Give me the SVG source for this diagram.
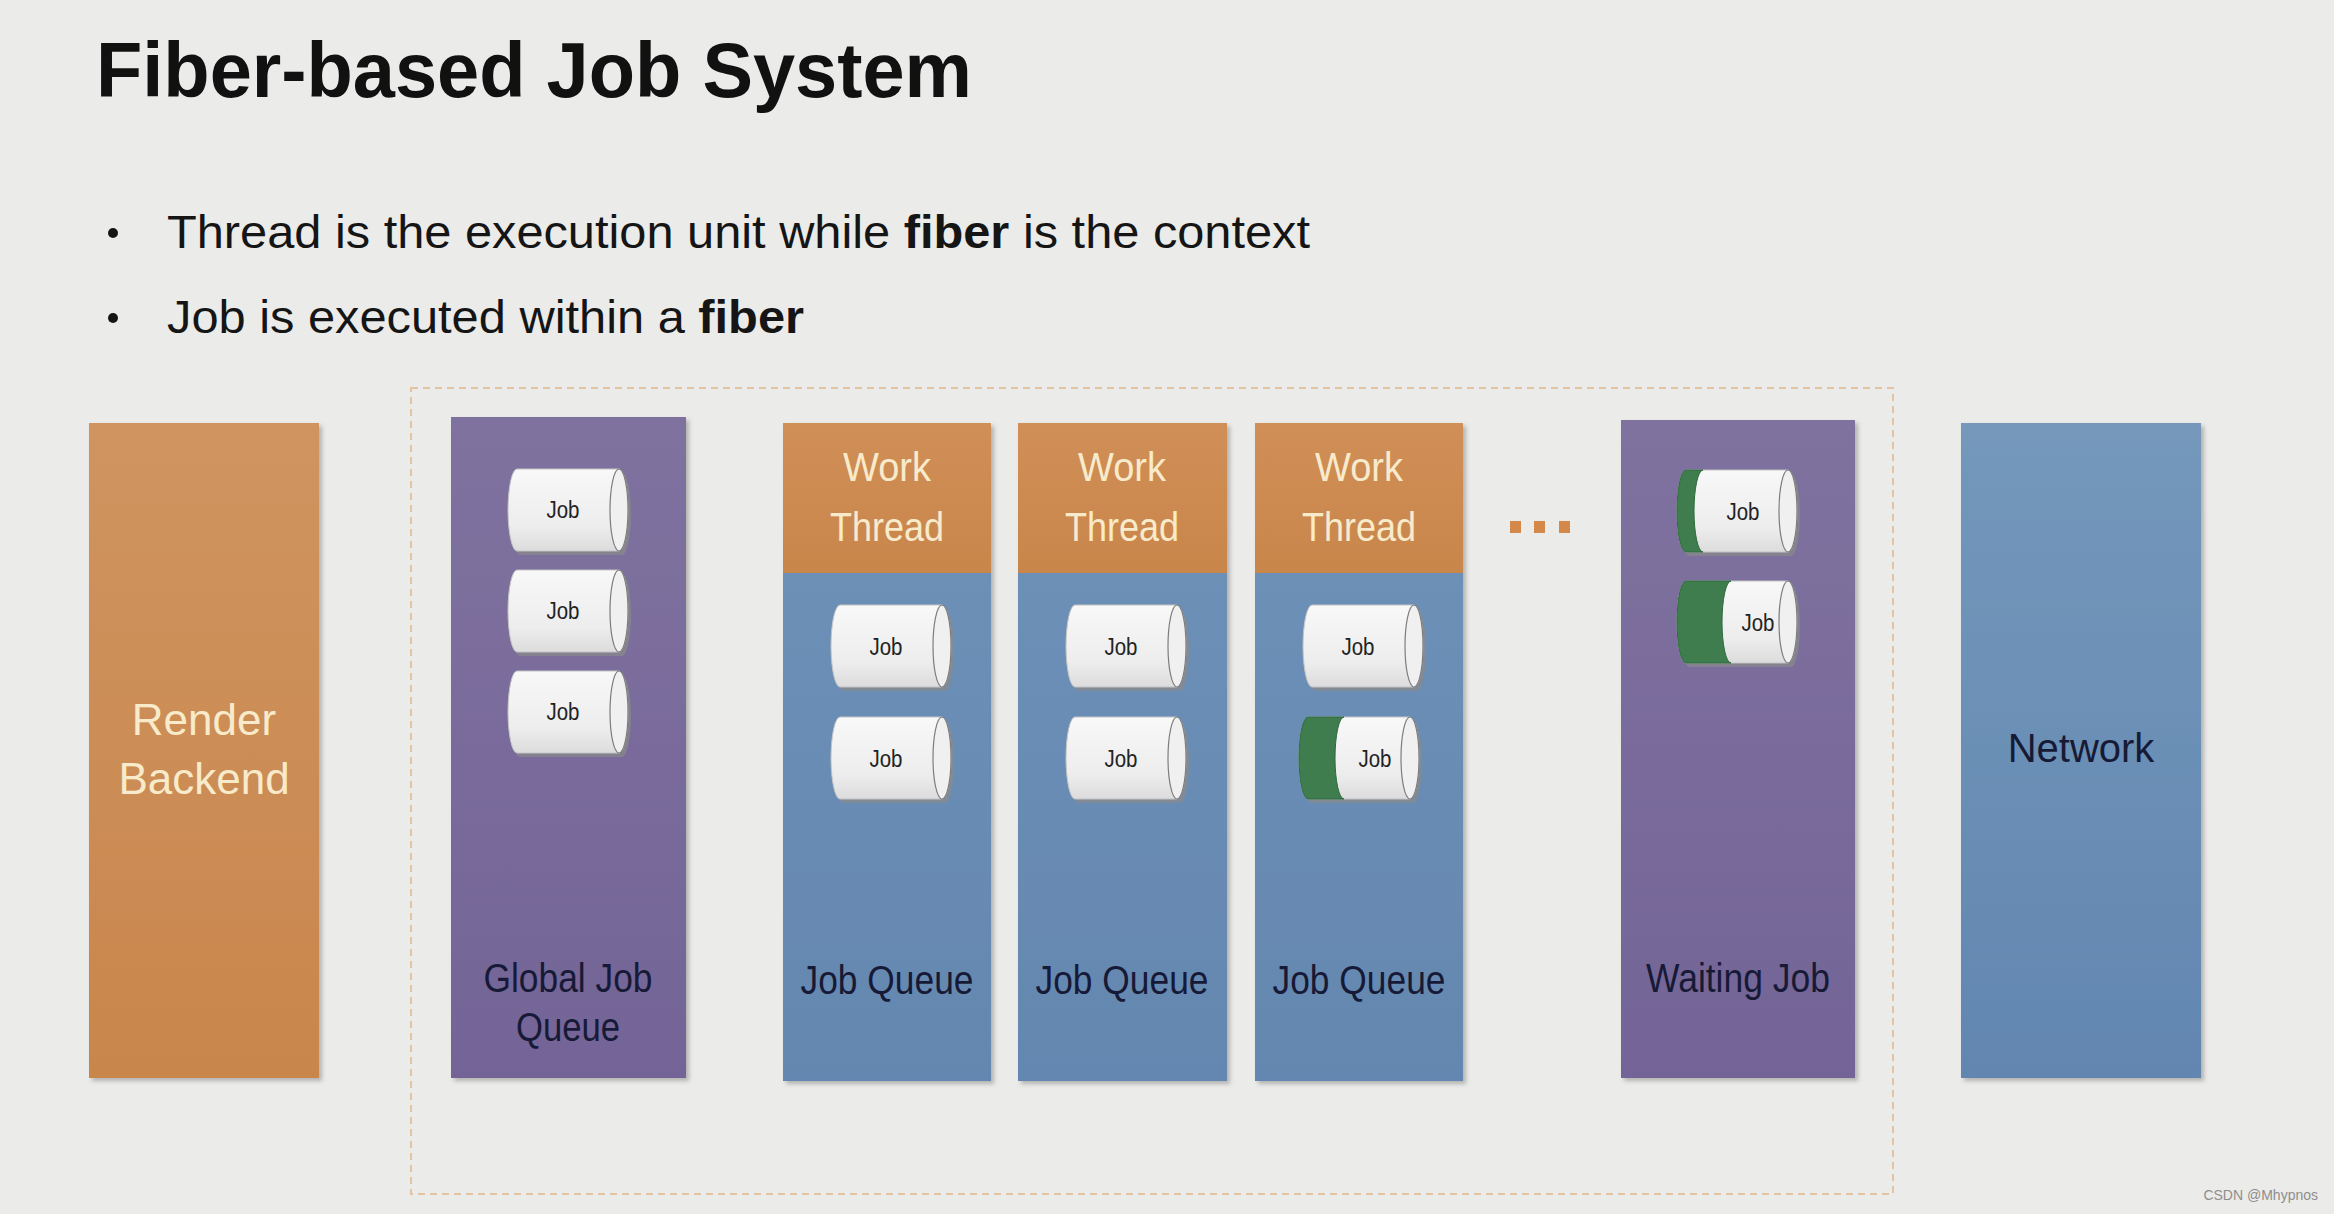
<svg xmlns="http://www.w3.org/2000/svg" width="2334" height="1214" viewBox="0 0 2334 1214">
<defs>
<style>
.t{font-family:"Liberation Sans",Arial,sans-serif}
.title{font-size:78px;font-weight:bold;fill:#111}
.bul{font-size:46px;fill:#151515}
.cream{fill:#f8ebcc}
.dark{fill:#171a36}
.lbl{font-size:40px}
.job{font-size:23px;fill:#222;text-anchor:middle}
.mid{text-anchor:middle}
.dot{fill:#d4884a}
.grn{fill:#3f7c4e;stroke:#2f6a3e;stroke-width:1}
</style>
<linearGradient id="gOr" x1="0" y1="0" x2="0" y2="1"><stop offset="0" stop-color="#cf9460"/><stop offset="1" stop-color="#c9864c"/></linearGradient>
<linearGradient id="gHd" x1="0" y1="0" x2="0" y2="1"><stop offset="0" stop-color="#d08f57"/><stop offset="1" stop-color="#c9864b"/></linearGradient>
<linearGradient id="gPu" x1="0" y1="0" x2="0" y2="1"><stop offset="0" stop-color="#7f729f"/><stop offset="1" stop-color="#736497"/></linearGradient>
<linearGradient id="gBl" x1="0" y1="0" x2="0" y2="1"><stop offset="0" stop-color="#6f92b9"/><stop offset="1" stop-color="#6487b0"/></linearGradient>
<linearGradient id="gNw" x1="0" y1="0" x2="0" y2="1"><stop offset="0" stop-color="#7498bb"/><stop offset="1" stop-color="#6286b0"/></linearGradient>
<linearGradient id="gJob" x1="0" y1="0" x2="0" y2="1"><stop offset="0" stop-color="#f8f8f8"/><stop offset="0.7" stop-color="#ededed"/><stop offset="1" stop-color="#dcdcdc"/></linearGradient>
<filter id="sh" x="-5%" y="-5%" width="115%" height="115%"><feDropShadow dx="3" dy="3" stdDeviation="2" flood-color="#6f6f6f" flood-opacity="0.45"/></filter>
<g id="cyl">
<path d="M12,4 H114 A9,41 0 0 1 114,86 H12 A9,41 0 0 1 12,4 Z" fill="#8a8a8a" opacity="0.7"/>
<path d="M9,0 H111 A9,41 0 0 1 111,82 H9 A9,41 0 0 1 9,0 Z" fill="url(#gJob)" stroke="#c4c4c4" stroke-width="1"/>
<ellipse cx="111" cy="41" rx="9" ry="41" fill="#f0f0f0" stroke="#7d7d7d" stroke-width="1.2"/>
</g>
</defs>
<rect width="2334" height="1214" fill="#ebebe9"/>

<g id="title" class="t">
<text class="title" x="96" y="97" textLength="876" lengthAdjust="spacingAndGlyphs">Fiber-based Job System</text>
</g>
<g id="bullets" class="t">
<circle cx="113" cy="233" r="5" fill="#151515"/>
<text class="bul" x="167" y="248" textLength="1143" lengthAdjust="spacingAndGlyphs">Thread is the execution unit while <tspan font-weight="bold">fiber</tspan> is the context</text>
<circle cx="113" cy="318" r="5" fill="#151515"/>
<text class="bul" x="167" y="333" textLength="637" lengthAdjust="spacingAndGlyphs">Job is executed within a <tspan font-weight="bold">fiber</tspan></text>
</g>

<g id="connectors">
<rect id="fiber-boundary" x="411" y="388" width="1482" height="806" fill="none" stroke="#e2c3a2" stroke-width="2" stroke-dasharray="7,5"/>
</g>

<g id="render-backend" class="t">
<rect x="89" y="423" width="230" height="655" fill="url(#gOr)" filter="url(#sh)"/>
<text class="cream mid" x="204" y="735" font-size="44">Render</text>
<text class="cream mid" x="204" y="794" font-size="44">Backend</text>
</g>

<g id="global-job-queue" class="t">
<rect x="451" y="417" width="235" height="661" fill="url(#gPu)" filter="url(#sh)"/>
<use href="#cyl" x="508" y="469"/><text class="job" x="563" y="518" textLength="33" lengthAdjust="spacingAndGlyphs">Job</text>
<use href="#cyl" x="508" y="570"/><text class="job" x="563" y="619" textLength="33" lengthAdjust="spacingAndGlyphs">Job</text>
<use href="#cyl" x="508" y="671"/><text class="job" x="563" y="720" textLength="33" lengthAdjust="spacingAndGlyphs">Job</text>
<text class="dark lbl mid" x="568" y="992" textLength="169" lengthAdjust="spacingAndGlyphs">Global Job</text>
<text class="dark lbl mid" x="568" y="1041" textLength="104" lengthAdjust="spacingAndGlyphs">Queue</text>
</g>

<g id="work-thread-1" class="t">
<rect x="783" y="423" width="208" height="658" fill="url(#gBl)" filter="url(#sh)"/>
<rect x="783" y="423" width="208" height="150" fill="url(#gHd)"/>
<text class="cream lbl mid" x="887" y="481" textLength="88" lengthAdjust="spacingAndGlyphs">Work</text>
<text class="cream lbl mid" x="887" y="541" textLength="114" lengthAdjust="spacingAndGlyphs">Thread</text>
<use href="#cyl" x="831" y="605"/><text class="job" x="886" y="655" textLength="33" lengthAdjust="spacingAndGlyphs">Job</text>
<use href="#cyl" x="831" y="717"/><text class="job" x="886" y="767" textLength="33" lengthAdjust="spacingAndGlyphs">Job</text>
<text class="dark lbl mid" x="887" y="994" textLength="173" lengthAdjust="spacingAndGlyphs">Job Queue</text>
</g>

<g id="work-thread-2" class="t">
<rect x="1018" y="423" width="209" height="658" fill="url(#gBl)" filter="url(#sh)"/>
<rect x="1018" y="423" width="209" height="150" fill="url(#gHd)"/>
<text class="cream lbl mid" x="1122" y="481" textLength="88" lengthAdjust="spacingAndGlyphs">Work</text>
<text class="cream lbl mid" x="1122" y="541" textLength="114" lengthAdjust="spacingAndGlyphs">Thread</text>
<use href="#cyl" x="1066" y="605"/><text class="job" x="1121" y="655" textLength="33" lengthAdjust="spacingAndGlyphs">Job</text>
<use href="#cyl" x="1066" y="717"/><text class="job" x="1121" y="767" textLength="33" lengthAdjust="spacingAndGlyphs">Job</text>
<text class="dark lbl mid" x="1122" y="994" textLength="173" lengthAdjust="spacingAndGlyphs">Job Queue</text>
</g>

<g id="work-thread-3" class="t">
<rect x="1255" y="423" width="208" height="658" fill="url(#gBl)" filter="url(#sh)"/>
<rect x="1255" y="423" width="208" height="150" fill="url(#gHd)"/>
<text class="cream lbl mid" x="1359" y="481" textLength="88" lengthAdjust="spacingAndGlyphs">Work</text>
<text class="cream lbl mid" x="1359" y="541" textLength="114" lengthAdjust="spacingAndGlyphs">Thread</text>
<use href="#cyl" x="1303" y="605"/><text class="job" x="1358" y="655" textLength="33" lengthAdjust="spacingAndGlyphs">Job</text>
<g transform="translate(1299,717)">
<use href="#cyl"/>
<path class="grn" d="M9,0 H45 A9,41 0 0 0 45,82 H9 A9,41 0 0 1 9,0 Z"/>
<text class="job" x="76" y="50" textLength="33" lengthAdjust="spacingAndGlyphs">Job</text>
</g>
<text class="dark lbl mid" x="1359" y="994" textLength="173" lengthAdjust="spacingAndGlyphs">Job Queue</text>
</g>

<g id="ellipsis">
<rect class="dot" x="1510" y="521" width="11" height="12"/>
<rect class="dot" x="1534" y="521" width="11" height="12"/>
<rect class="dot" x="1559" y="521" width="11" height="12"/>
</g>

<g id="waiting-job" class="t">
<rect x="1621" y="420" width="234" height="658" fill="url(#gPu)" filter="url(#sh)"/>
<g transform="translate(1677,470)">
<use href="#cyl"/>
<path class="grn" d="M9,0 H26 A9,41 0 0 0 26,82 H9 A9,41 0 0 1 9,0 Z"/>
<text class="job" x="66" y="50" textLength="33" lengthAdjust="spacingAndGlyphs">Job</text>
</g>
<g transform="translate(1677,581)">
<use href="#cyl"/>
<path class="grn" d="M9,0 H54 A9,41 0 0 0 54,82 H9 A9,41 0 0 1 9,0 Z"/>
<text class="job" x="81" y="50" textLength="33" lengthAdjust="spacingAndGlyphs">Job</text>
</g>
<text class="dark lbl mid" x="1738" y="992" textLength="184" lengthAdjust="spacingAndGlyphs">Waiting Job</text>
</g>

<g id="network" class="t">
<rect x="1961" y="423" width="240" height="655" fill="url(#gNw)" filter="url(#sh)"/>
<text class="dark lbl mid" x="2081" y="762">Network</text>
</g>

<g id="credit" class="t">
<text x="2318" y="1200" font-size="14" fill="#8e8e8e" text-anchor="end">CSDN @Mhypnos</text>
</g>
</svg>
